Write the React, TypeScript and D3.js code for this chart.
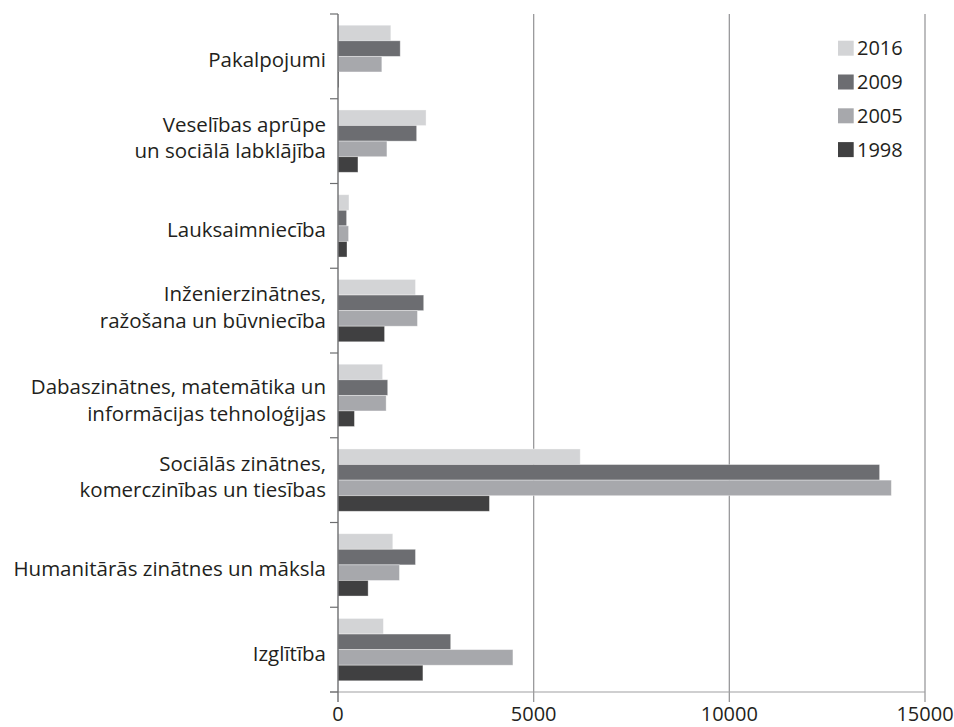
import { useEffect, useRef } from 'react';
import * as d3 from 'd3';

// categories top to bottom, each label split into lines
const categories = [
    ['Pakalpojumi'],
    ['Veselības aprūpe', 'un sociālā labklājība'],
    ['Lauksaimniecība'],
    ['Inženierzinātnes,', 'ražošana  un būvniecība'],
    ['Dabaszinātnes, matemātika un', 'informācijas tehnoloģijas'],
    ['Sociālās zinātnes,', 'komerczinības un tiesības'],
    ['Humanitārās zinātnes un māksla'],
    ['Izglītība']
];

const seriesNames = ['2016', '2009', '2005', '1998'];

const values2016 = [1350, 2250, 280, 1980, 1140, 6190, 1400, 1160];
const values2009 = [1590, 2010, 220, 2190, 1270, 13840, 1980, 2880];
const values2005 = [1120, 1250, 270, 2030, 1230, 14140, 1570, 4470];
const values1998 = [25, 510, 230, 1190, 420, 3870, 770, 2170];

const xTicks = [0, 5000, 10000, 15000];

const seriesColors: Record<string, string> = {
    '2016': '#d3d4d6',
    '2009': '#6c6d71',
    '2005': '#a7a8ac',
    '1998': '#404041'
};

export default function App() {
    const svgRef = useRef<SVGSVGElement>(null);

    useEffect(() => {
        if (!svgRef.current) return;
        document.body.style.margin = '0';

        const svg = d3.select(svgRef.current);
        svg.selectAll('*').remove();

        const font = "'Open Sans', sans-serif";
        const textColor = '#231f20';
        const seriesValues = [values2016, values2009, values2005, values1998];
        const keys = categories.map((_, i) => String(i));
        const top = 14;
        const bottom = 692;

        const x = d3.scaleLinear().domain([0, 15000]).range([338, 925]);
        const y = d3.scaleBand().domain(keys).range([top, bottom]).padding(0);
        const yInner = d3.scaleBand()
            .domain(seriesNames)
            .range([0, y.bandwidth()])
            .paddingInner(0)
            .paddingOuter(0.72);

        // vertical grid lines (with small ticks below the axis)
        svg.append('g')
            .selectAll('line')
            .data(xTicks.slice(1))
            .enter()
            .append('line')
            .attr('x1', d => x(d))
            .attr('x2', d => x(d))
            .attr('y1', top)
            .attr('y2', bottom + 10)
            .attr('stroke', '#9a9a9c')
            .attr('stroke-width', 1.3);

        // bars
        const groups = svg.append('g')
            .selectAll('g')
            .data(keys)
            .enter()
            .append('g')
            .attr('transform', d => `translate(0,${y(d)})`);

        groups.selectAll('rect')
            .data((_, i) => seriesNames.map((s, j) => ({ s, v: seriesValues[j][i] })))
            .enter()
            .append('rect')
            .attr('x', x(0))
            .attr('y', d => yInner(d.s) || 0)
            .attr('width', d => x(d.v) - x(0))
            .attr('height', yInner.bandwidth())
            .attr('fill', d => seriesColors[d.s])
            .attr('stroke', 'rgba(255,255,255,0.45)')
            .attr('stroke-width', 0.8);

        // bottom axis line
        svg.append('line')
            .attr('x1', 330).attr('x2', x(15000))
            .attr('y1', bottom).attr('y2', bottom)
            .attr('stroke', '#a0a0a2')
            .attr('stroke-width', 1.2);

        // left axis with category boundary ticks
        const axisColor = '#6d6e70';
        svg.append('line')
            .attr('x1', x(0)).attr('x2', x(0))
            .attr('y1', top).attr('y2', bottom + 10)
            .attr('stroke', axisColor)
            .attr('stroke-width', 1.4);

        const boundaries = keys.map(k => y(k) || 0).concat([bottom]);
        svg.append('g')
            .selectAll('line')
            .data(boundaries)
            .enter()
            .append('line')
            .attr('x1', 330)
            .attr('x2', x(0))
            .attr('y1', d => d)
            .attr('y2', d => d)
            .attr('stroke', axisColor)
            .attr('stroke-width', 1.2);

        // category labels
        const lineHeight = 26.5;
        const nudge = [0, 0, 0, 0, 8, 0, 0, 0];
        svg.append('g')
            .selectAll('text')
            .data(categories)
            .enter()
            .append('text')
            .attr('text-anchor', 'end')
            .attr('font-family', font)
            .attr('font-size', 20.5)
            .attr('fill', textColor)
            .each(function (lines, i) {
                const cy = (y(keys[i]) || 0) + y.bandwidth() / 2;
                const startY = lines.length === 1
                    ? cy + 11
                    : cy - lineHeight / 2 + 4 + nudge[i];
                lines.forEach((ln, k) => {
                    d3.select(this).append('tspan')
                        .attr('x', 326)
                        .attr('y', startY + k * lineHeight)
                        .text(ln);
                });
            });

        // x tick labels
        svg.append('g')
            .selectAll('text')
            .data(xTicks)
            .enter()
            .append('text')
            .attr('x', d => x(d))
            .attr('y', 721)
            .attr('text-anchor', 'middle')
            .attr('font-family', font)
            .attr('font-size', 20)
            .attr('fill', textColor)
            .text(d => String(d));

        // legend
        const legend = svg.append('g')
            .selectAll('g')
            .data(seriesNames)
            .enter()
            .append('g')
            .attr('transform', (_, i) => `translate(838,${40.7 + i * 33.8})`);

        legend.append('rect')
            .attr('width', 15.7)
            .attr('height', 15)
            .attr('fill', d => seriesColors[d]);

        legend.append('text')
            .attr('x', 19)
            .attr('y', 14.5)
            .attr('font-family', font)
            .attr('font-size', 20)
            .attr('fill', textColor)
            .text(d => d);
    }, []);

    return (
        <div style={{ position: 'absolute', left: 0, top: 0 }}>
            <svg ref={svgRef} width={954} height={727} style={{ display: 'block', background: '#fff' }} />
        </div>
    );
}
